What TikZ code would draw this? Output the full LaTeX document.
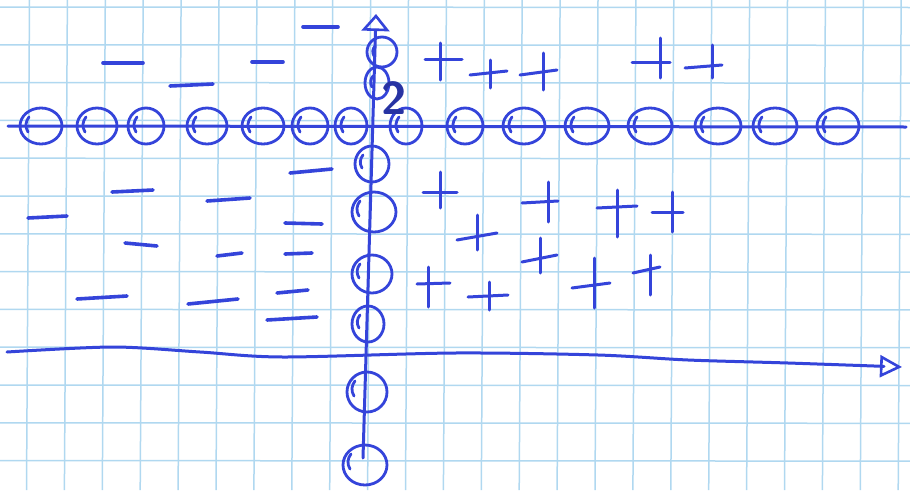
\documentclass[tikz,border=0pt]{standalone}
\usepackage{fontspec}
\usepackage{xcolor}
\definecolor{penblue}{RGB}{52,68,218}
\definecolor{gridblue}{RGB}{176,216,240}
\usetikzlibrary{arrows.meta}

\begin{document}
\begin{tikzpicture}[x=1pt, y=-1pt,
  gridline/.style={gridblue, line width=1.5pt},
  pen/.style={penblue, line width=3pt, line cap=round, line join=round},
  ring/.style={pen, line width=2.8pt},
  dash mark/.style={pen, line width=3.6pt}]
  % paper
  \useasboundingbox (0,0) rectangle (910,490);
  \fill[white] (0,0) rectangle (910,490);

  % squares
  \foreach \k in {0,...,23}
    \draw[gridline] ({29.5+37.9*\k},0) -- ({29.5+37.9*\k-3},490);
  \foreach \k in {0,...,12}
    \draw[gridline] (0,{7+37.8*\k}) -- (910,{7.5+37.8*\k});

  % upper axis
  \coordinate (hl) at (8,126);
  \coordinate (hr) at (906,127);
  \draw[pen] (hl) -- (hr);

  % vertical axis
  \coordinate (vbot) at (363,458);
  \coordinate (vtop) at (376,14);
  \draw[pen, -{Triangle[open, length=17pt, width=28pt, line width=2.6pt]}] (vbot) -- (vtop);

  % lower axis
  \draw[pen, -{Triangle[open, length=22pt, width=22pt, line width=2.6pt]}]
    plot[smooth, tension=0.5] coordinates {(7,352) (113,347) (200,352) (283,357) (455,353) (598,355) (688,360) (788,363) (902,367)};

  % rings on the upper axis
  \foreach \cx/\rx in {41/21, 97/20, 146/18, 207/20, 263/21, 310/18, 351/16, 406/16,
                       465/18, 524/21, 587/22, 650/22, 718/23, 775/22, 838/21} {
    \draw[ring] (\cx,126) ellipse [x radius=\rx, y radius=18];
    \draw[ring] ({\cx-\rx+9},117) to[bend right=35] ({\cx-\rx+8},132);
  }

  % rings on the vertical axis
  \foreach \cx/\cy/\rx/\ry in {382/52/15/15, 377/83/12/16, 372/164/17/18, 374/212/22/20,
                               372/274/20/19, 368/324/16/18, 367/392/20/20, 365/465/22/20} {
    \draw[ring] (\cx,\cy) ellipse [x radius=\rx, y radius=\ry];
    \draw[ring] ({\cx-\rx+8},{\cy-\ry+9}) to[bend right=35] ({\cx-\rx+7},{\cy+4});
  }

  % label
  \node[text=penblue!75!black, inner sep=0pt, font=\fontsize{46}{46}\selectfont\sffamily\bfseries] (two) at (394,98) {2};

  % minus signs
  \foreach \xa/\ya/\xb/\yb in {103/63/143/63, 170/86/213/84, 252/62/283/62, 303/27/338/27,
                               290/173/332/169, 112/192/153/190, 28/218/67/216, 207/201/250/198,
                               285/223/322/224, 125/243/157/246, 217/256/242/253, 285/254/312/253,
                               77/299/127/296, 188/304/238/299, 277/293/308/290, 267/320/317/317}
    \draw[dash mark] (\xa,\ya) -- (\xb,\yb);

  % plus signs
  \foreach \xa/\ya/\xb/\yb/\vx/\vya/\vyb in {
      425/59/462/59/440/43/80, 470/75/507/71/490/60/88, 520/75/557/70/543/53/90,
      632/62/670/62/660/38/78, 685/68/722/65/712/45/78,
      423/192/457/192/440/172/208, 457/240/497/233/477/215/250, 522/203/558/201/548/182/222,
      597/208/637/206/617/190/237, 652/212/683/212/672/192/232, 522/262/557/255/540/238/273,
      417/284/450/283/428/267/307, 468/297/508/295/489/282/310, 572/288/610/283/594/258/308,
      633/273/660/267/650/255/295} {
    \draw[pen] (\xa,\ya) -- (\xb,\yb);
    \draw[pen] (\vx,\vya) -- (\vx,\vyb);
  }
\end{tikzpicture}
\end{document}
